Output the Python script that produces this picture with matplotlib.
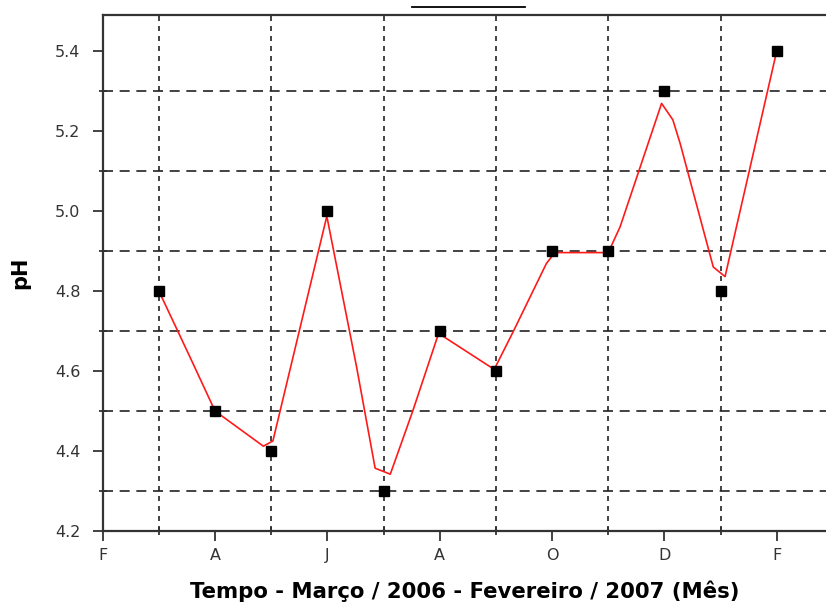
import matplotlib
matplotlib.use("Agg")
import matplotlib.pyplot as plt
from matplotlib.lines import Line2D
from matplotlib.ticker import MultipleLocator, FixedLocator, FormatStrFormatter

# monthly pH, March 2006 (1) .. February 2007 (12); 0 = February 2006
months = [1, 2, 3, 4, 5, 6, 7, 8, 9, 10, 11, 12]
ph = [4.8, 4.5, 4.4, 5.0, 4.3, 4.7, 4.6, 4.9, 4.9, 5.3, 4.8, 5.4]

# red trace as drawn in the original (vertices)
curve_x = [1.0, 1.55, 2.0, 2.86, 3.03, 3.99, 4.52, 4.85, 5.12, 5.52, 5.98,
           6.97, 7.3, 7.9, 8.05, 9.0, 9.21, 9.95, 10.15, 10.28, 10.87, 11.08, 11.99]
curve_y = [4.8, 4.636, 4.5, 4.412, 4.425, 4.987, 4.61, 4.357, 4.342, 4.50, 4.694,
           4.604, 4.696, 4.869, 4.896, 4.896, 4.96, 5.269, 5.228, 5.169, 4.86, 4.836, 5.394]

tick_pos = [0, 2, 4, 6, 8, 10, 12]
tick_lab = ["F", "A", "J", "A", "O", "D", "F"]

W, H = 826, 603
fig = plt.figure(figsize=(W / 100, H / 100), dpi=100)
x0, y0, y1 = 102.7, 531, 15
px_month = 56.17
ax = fig.add_axes([x0 / W, (H - y0) / H, (W - x0) / W, (y0 - y1) / H])
ax.set_xlim(0, (W - x0) / px_month)
ax.set_ylim(4.2, 5.49)

EDGE = "#333333"
for s in ("left", "bottom", "top"):
    ax.spines[s].set_color(EDGE)
    ax.spines[s].set_linewidth(1.6)
ax.spines["right"].set_visible(False)

ax.xaxis.set_major_locator(FixedLocator(tick_pos))
ax.set_xticklabels(tick_lab)
ax.xaxis.set_minor_locator(FixedLocator([1, 3, 5, 7, 9, 11]))
ax.yaxis.set_major_locator(MultipleLocator(0.2))
ax.yaxis.set_minor_locator(FixedLocator([4.3, 4.5, 4.7, 4.9, 5.1, 5.3]))
ax.yaxis.set_major_formatter(FormatStrFormatter("%.1f"))

ax.tick_params(which="major", direction="out", length=7.5, width=1.3, color=EDGE,
               labelsize=11.5, labelcolor="#333333", pad=5)
ax.tick_params(axis="y", which="major", pad=8.5)
ax.tick_params(which="minor", direction="inout", length=6, width=1.3, color=EDGE)

# dashed grid on minor positions only
ax.grid(False)
ax.grid(which="minor", axis="x", color="#222222", linestyle=(0, (3, 3)), linewidth=1.2)
ax.grid(which="minor", axis="y", color="#222222", linestyle=(0, (6, 4)), linewidth=1.2)
ax.set_axisbelow(True)

ax.plot(curve_x, curve_y, color="#ff1a1a", linewidth=1.2, zorder=3)
ax.plot(months, ph, linestyle="none", marker="s", markersize=6.5,
        color="black", zorder=4, clip_on=False)

ax.set_xlabel("Tempo - Março / 2006 - Fevereiro / 2007 (Mês)", fontsize=15.3,
              fontweight="bold", labelpad=12)
ax.set_ylabel("pH", fontsize=15, fontweight="bold", labelpad=18)

# stray rule above the plot
fig.add_artist(Line2D([412 / W, 525 / W], [1 - 7.3 / H, 1 - 7.3 / H],
                      color="black", linewidth=1.3))

fig.savefig("out.png", dpi=100, facecolor="white")
